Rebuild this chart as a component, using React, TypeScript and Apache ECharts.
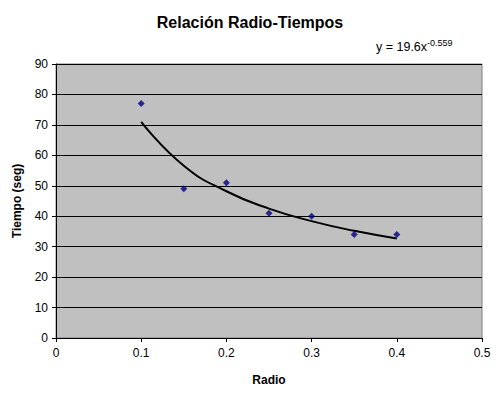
import React, { useEffect, useRef } from "react";
import * as echarts from "echarts";

const radio = [0.1, 0.15, 0.2, 0.25, 0.3, 0.35, 0.4];
const tiempo = [77, 49, 51, 41, 40, 34, 34];
const trendX = [0.1, 0.15, 0.2, 0.25, 0.3, 0.35, 0.4];
const trendY = [71, 56.6, 48.2, 42.5, 38.4, 35.2, 32.7];
const titleText = "Relación Radio-Tiempos";
const xAxisName = "Radio";
const yAxisName = "Tiempo (seg)";

export default function App() {
  const ref = useRef<HTMLDivElement>(null);
  useEffect(() => {
    const chart = echarts.init(ref.current!, null, { renderer: "svg" });
    const font = "'Liberation Sans', Arial, sans-serif";
    chart.setOption({
      animation: false,
      backgroundColor: "#ffffff",
      textStyle: { fontFamily: font },
      title: {
        text: titleText,
        left: "center",
        top: 9,
        textStyle: { fontSize: 16, fontWeight: "bold", color: "#000", fontFamily: font },
      },
      graphic: [
        {
          type: "text",
          left: 376,
          top: 38,
          style: {
            text: "{b|y = 19.6x}{s|-0.559}",
            rich: {
              b: { fontSize: 12.5, fill: "#000", fontFamily: font, verticalAlign: "bottom" },
              s: { fontSize: 9, fill: "#000", fontFamily: font, verticalAlign: "top", padding: [0, 0, 6, 0] },
            },
          },
        },
      ],
      grid: {
        left: 56,
        right: 18,
        top: 64,
        bottom: 59,
        show: true,
        backgroundColor: "#c0c0c0",
        borderColor: "#808080",
        borderWidth: 1,
      },
      xAxis: {
        type: "value",
        min: 0,
        max: 0.5,
        interval: 0.1,
        name: xAxisName,
        nameLocation: "middle",
        nameGap: 36,
        nameTextStyle: { fontWeight: "bold", fontSize: 12, color: "#000", fontFamily: font },
        axisLine: { show: true, onZero: false, lineStyle: { color: "#000" } },
        axisTick: { show: true, length: 4, lineStyle: { color: "#000" } },
        axisLabel: { fontSize: 12, color: "#000", margin: 9, fontFamily: font },
        splitLine: { show: false },
      },
      yAxis: {
        type: "value",
        min: 0,
        max: 90,
        interval: 10,
        name: yAxisName,
        nameLocation: "middle",
        nameGap: 33,
        nameTextStyle: { fontWeight: "bold", fontSize: 12, color: "#000", fontFamily: font },
        axisLine: { show: true, lineStyle: { color: "#000" } },
        axisTick: { show: true, length: 4, lineStyle: { color: "#000" } },
        axisLabel: { fontSize: 12, color: "#000", margin: 8, fontFamily: font },
        splitLine: { show: true, lineStyle: { color: "#000", width: 1 } },
      },
      series: [
        {
          type: "line",
          data: trendX.map((x, i) => [x, trendY[i]]),
          smooth: true,
          showSymbol: false,
          symbol: "none",
          lineStyle: { color: "#000", width: 2 },
          z: 2,
        },
        {
          type: "scatter",
          data: radio.map((x, i) => [x, tiempo[i]]),
          symbol: "diamond",
          symbolSize: 7,
          itemStyle: { color: "#000080" },
          z: 3,
        },
      ],
    });
    return () => chart.dispose();
  }, []);
  return <div ref={ref} style={{ width: 500, height: 397, position: "absolute", left: 0, top: 0 }} />;
}
